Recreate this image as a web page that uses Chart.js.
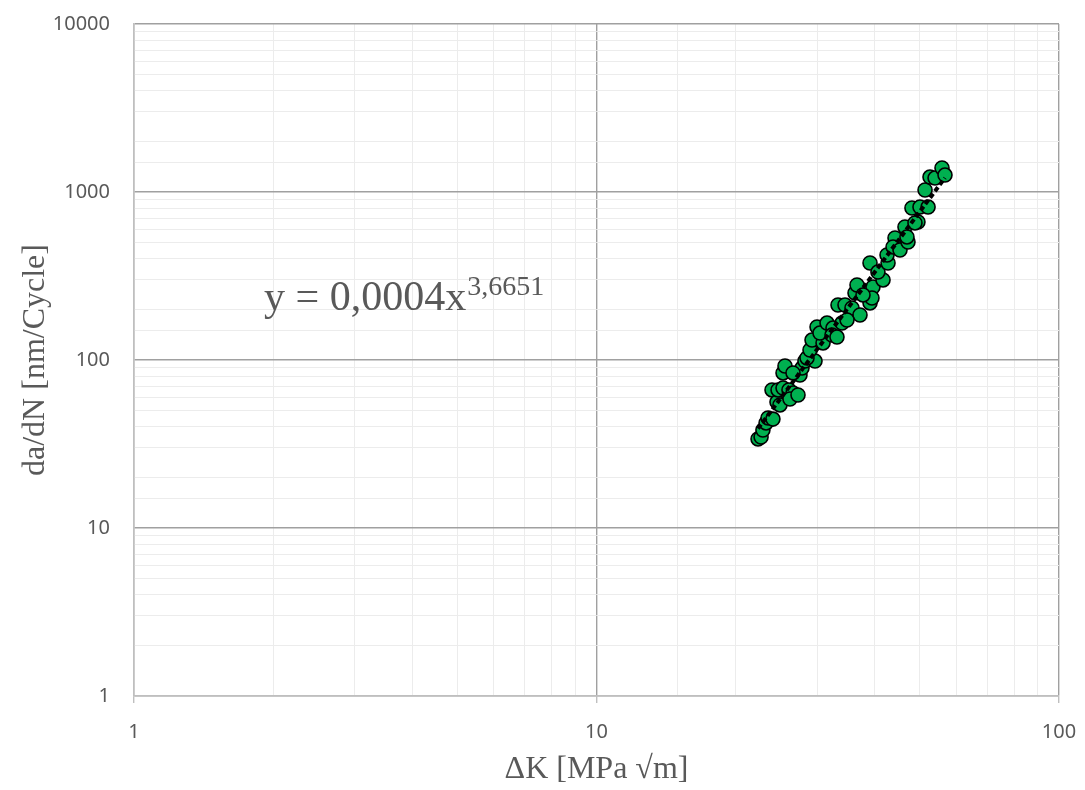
<!DOCTYPE html>
<html>
<head>
<meta charset="utf-8">
<script src="https://cdn.jsdelivr.net/npm/chart.js@4"></script>
<style>
  html, body { margin: 0; padding: 0; background: #fff; }
  #wrap { width: 1085px; height: 790px; }
</style>
</head>
<body>
<div id="wrap"><canvas id="crackChart" width="1085" height="790"></canvas></div>
<script>
// ΔK [MPa √m]
const deltaK = [
  22.35, 22.69, 22.9, 23.26, 23.49, 24.07, 23.96, 24.56, 24.93, 24.69,
  25.31, 26.07, 26.6, 26.2, 27.27, 25.31, 25.56, 27.54, 27.82, 28.23,
  29.68, 26.6, 28.52, 28.95, 29.24, 29.98, 30.89, 30.42, 31.51, 32.46,
  32.3, 33.11, 33.95, 33.28, 34.46, 35.68, 37.13, 36.22, 39.03, 36.58,
  39.03, 39.61, 41.64, 39.41, 37.69, 40.6, 42.69, 42.48, 44.2, 43.77,
  45.31, 47.15, 46.45, 49.55, 46.91, 48.82, 48.09, 50.05, 52.11, 51.33,
  52.61, 53.95, 55.85, 56.69, 34.8
]
// da/dN [nm/Cycle]
const dadN = [
  33.9, 34.8, 38.3, 42.2, 45.2, 44.5, 66.3, 56.2, 54.0, 66.3,
  68.1, 66.3, 63.6, 58.6, 61.9, 83.7, 92.1, 81.4, 89.6, 98.6,
  98.6, 83.7, 102.8, 114.7, 131.5, 157.2, 126.3, 144.7, 166, 155,
  140.8, 137, 166, 212.5, 212.5, 204, 185.3, 250.5, 218.5, 279.5,
  377.9, 272, 299.4, 233.9, 243.8, 334, 377.9, 421.7, 532.3, 470.7,
  451.6, 504, 619, 662.8, 539.8, 654, 803, 814, 814, 1027.8,
  1228, 1211, 1390, 1262, 173
]
const xTicks = [1, 10, 100]
const yTicks = [1, 10, 100, 1000, 10000]
const eqMain = "y = 0,0004x"
const eqExp = "3,6651"

// Potenz-Trendlinie (Fit im log-log Raum)
function powerFit(xs, ys) {
  const n = xs.length
  let sx = 0, sy = 0, sxx = 0, sxy = 0
  for (let i = 0; i < n; i++) {
    const lx = Math.log(xs[i]), ly = Math.log(ys[i])
    sx += lx; sy += ly; sxx += lx * lx; sxy += lx * ly
  }
  const b = (n * sxy - sx * sy) / (n * sxx - sx * sx)
  const a = Math.exp((sy - b * sx) / n)
  return { a, b }
}

const fit = powerFit(deltaK, dadN)
const xMin = Math.min(...deltaK), xMax = Math.max(...deltaK)
const trend = [xMin, xMax].map(x => ({ x, y: fit.a * Math.pow(x, fit.b) }))

const isMajor = v => Math.abs(Math.log10(v) - Math.round(Math.log10(v))) < 1e-6

// Achsen ohne Label-Überhang, Plotfläche kommt nur aus layout.padding
function fixPadding(s) {
  s.paddingTop = 0
  s.paddingBottom = 0
  s.paddingLeft = 0
  s.paddingRight = 0
}

const equationPlugin = {
  id: "equation",
  afterDatasetsDraw(chart) {
    const ctx = chart.ctx
    const area = chart.chartArea
    ctx.save()
    ctx.fillStyle = "#595959"
    ctx.textBaseline = "alphabetic"
    ctx.textAlign = "left"
    ctx.font = '42px "Liberation Serif", "Times New Roman", serif'
    const x0 = area.left + 130
    const y0 = area.top + 286
    ctx.fillText(eqMain, x0, y0)
    const w = ctx.measureText(eqMain).width
    ctx.font = '28px "Liberation Serif", "Times New Roman", serif'
    ctx.fillText(eqExp, x0 + w + 1, y0 - 15)
    ctx.restore()
  }
}

const ctx = document.getElementById("crackChart").getContext("2d")
new Chart(ctx, {
  type: "scatter",
  data: {
    datasets: [
      {
        label: "Trend",
        data: trend,
        showLine: true,
        borderColor: "#000000",
        borderWidth: 4,
        borderDash: [5, 3],
        pointRadius: 0,
        order: 0
      },
      {
        label: "da/dN",
        data: deltaK.map((k, i) => ({ x: k, y: dadN[i] })),
        backgroundColor: "#00b050",
        borderColor: "#000000",
        borderWidth: 1.6,
        pointRadius: 7,
        order: 1
      }
    ]
  },
  options: {
    responsive: false,
    animation: false,
    layout: { padding: { top: 24, right: 26, left: 0, bottom: 0 } },
    plugins: {
      legend: { display: false },
      tooltip: { enabled: false }
    },
    scales: {
      x: {
        type: "logarithmic",
        min: xTicks[0],
        max: xTicks[xTicks.length - 1],
        afterFit: s => { s.height = 94; fixPadding(s) },
        border: { color: "#bfbfbf", width: 1.5 },
        grid: {
          color: c => isMajor(c.tick.value) ? "#a0a0a0" : "#ececec",
          lineWidth: c => isMajor(c.tick.value) ? 1.4 : 1,
          tickColor: c => isMajor(c.tick.value) ? "#bfbfbf" : "rgba(0,0,0,0)",
          tickLength: 7
        },
        ticks: {
          autoSkip: false,
          maxRotation: 0,
          padding: 17,
          color: "#595959",
          font: { family: '"Noto Sans", sans-serif', size: 20 },
          callback: v => xTicks.includes(v) ? String(v) : ""
        },
        title: {
          display: true,
          text: "ΔK [MPa √m]",
          color: "#595959",
          font: { family: '"Liberation Serif", "Times New Roman", serif', size: 32 },
          padding: { top: 0, bottom: 1 }
        }
      },
      y: {
        type: "logarithmic",
        min: yTicks[0],
        max: yTicks[yTicks.length - 1],
        afterFit: s => { s.width = 134; fixPadding(s) },
        border: { color: "#bfbfbf", width: 1.5 },
        grid: {
          color: c => isMajor(c.tick.value) ? "#a0a0a0" : "#ececec",
          lineWidth: c => isMajor(c.tick.value) ? 1.4 : 1,
          drawTicks: false
        },
        ticks: {
          autoSkip: false,
          padding: 24,
          color: "#595959",
          font: { family: '"Noto Sans", sans-serif', size: 20 },
          callback: v => yTicks.includes(v) ? String(v) : ""
        },
        title: {
          display: true,
          text: "da/dN [nm/Cycle]",
          color: "#595959",
          font: { family: '"Liberation Serif", "Times New Roman", serif', size: 32 },
          padding: { top: 16, bottom: 0 }
        }
      }
    }
  },
  plugins: [equationPlugin]
})
</script>
</body>
</html>
